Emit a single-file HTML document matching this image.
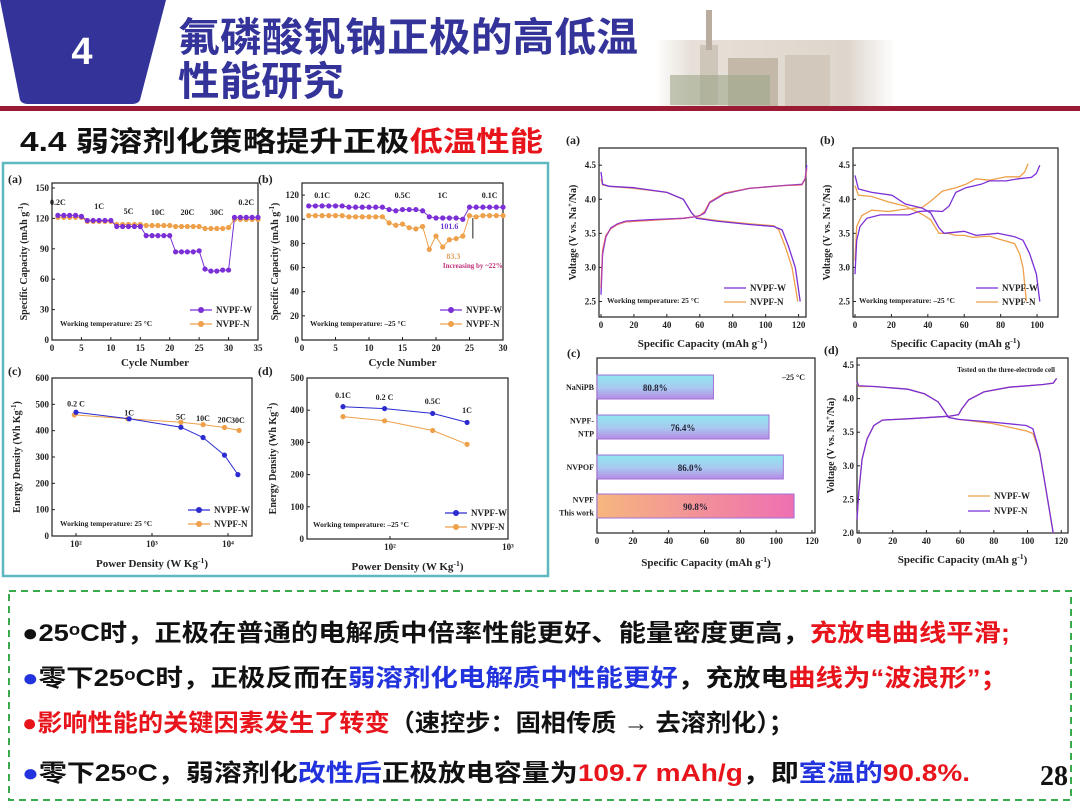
<!DOCTYPE html>
<html><head><meta charset="utf-8"><style>
html,body{margin:0;padding:0;background:#fff;width:1080px;height:810px;overflow:hidden}
svg{display:block}
.cn{font-family:"Liberation Sans","Noto Sans CJK SC",sans-serif;font-weight:bold}
.sf{font-family:"Liberation Serif",serif;font-weight:bold}
</style></head><body>
<svg id="s" width="1080" height="810" viewBox="0 0 1080 810" xmlns="http://www.w3.org/2000/svg">
<defs>
<linearGradient id="gBar" x1="0" y1="0" x2="0" y2="1"><stop offset="0" stop-color="#8fe6f0"/><stop offset="0.55" stop-color="#a9c8ef"/><stop offset="1" stop-color="#b58ae6"/></linearGradient>
<linearGradient id="gBar2" x1="0" y1="0" x2="1" y2="0"><stop offset="0" stop-color="#f6b67e"/><stop offset="1" stop-color="#ef6fb2"/></linearGradient>
<linearGradient id="gBld" x1="0" y1="0" x2="1" y2="0"><stop offset="0" stop-color="#fff"/><stop offset="0.15" stop-color="#e6e0d8"/><stop offset="0.8" stop-color="#ddd6cc"/><stop offset="1" stop-color="#fff"/></linearGradient>
</defs>
<g>
<path d="M0,0 L166,0 L140,100 Q138,104 132,104 L28,104 Q22,104 20,100 Z" fill="#33339a"/>
<text x="82" y="64" fill="#fff" font-size="38" text-anchor="middle" class="cn">4</text>
<text x="178" y="51" fill="#33339a" font-size="40" class="cn" textLength="460" lengthAdjust="spacingAndGlyphs">氟磷酸钒钠正极的高低温</text>
<text x="178" y="95" fill="#33339a" font-size="40" class="cn" textLength="166" lengthAdjust="spacingAndGlyphs">性能研究</text>
<g>
<rect x="655" y="40" width="240" height="66" fill="url(#gBld)"/>
<rect x="700" y="45" width="18" height="60" fill="#cfc6ba"/>
<rect x="706" y="10" width="6" height="40" fill="#b9ada0"/>
<rect x="728" y="58" width="50" height="48" fill="#c4b8a8"/>
<rect x="785" y="55" width="45" height="51" fill="#d2c8bb"/>
<rect x="670" y="75" width="100" height="30" fill="#9fa78a" opacity="0.6"/>
</g>
<rect x="0" y="106" width="1080" height="5" fill="#9b1b35"/>
</g>
<text x="20" y="151" font-size="28" class="cn" fill="#111" textLength="523" lengthAdjust="spacingAndGlyphs">4.4 弱溶剂化策略提升正极<tspan fill="#e8141b">低温性能</tspan></text>
<rect x="3" y="163" width="545" height="413" fill="none" stroke="#5fb8c0" stroke-width="2.5"/>
<rect x="9" y="591" width="1062" height="209" fill="none" stroke="#3aaa4a" stroke-width="2" stroke-dasharray="7,5"/>
<g font-size="24" class="cn">
<text x="22" y="641" fill="#111" textLength="988" lengthAdjust="spacingAndGlyphs">●25ᵒC时，正极在普通的电解质中倍率性能更好、能量密度更高，<tspan fill="#e8141b">充放电曲线平滑;</tspan></text>
<text x="22" y="686" fill="#111" textLength="986" lengthAdjust="spacingAndGlyphs"><tspan fill="#2233dd">●</tspan>零下25ᵒC时，正极反而在<tspan fill="#2233dd">弱溶剂化电解质中性能更好</tspan>，充放电<tspan fill="#e8141b">曲线为“波浪形”；</tspan></text>
<text x="22" y="731" fill="#111" textLength="772" lengthAdjust="spacingAndGlyphs"><tspan fill="#e8141b">●影响性能的关键因素发生了转变</tspan>（速控步：固相传质 → 去溶剂化）；</text>
<text x="22" y="781" fill="#111" textLength="948" lengthAdjust="spacingAndGlyphs"><tspan fill="#2233dd">●</tspan>零下25ᵒC，弱溶剂化<tspan fill="#2233dd">改性后</tspan>正极放电容量为<tspan fill="#e8141b">109.7 mAh/g</tspan>，即<tspan fill="#2233dd">室温的</tspan><tspan fill="#e8141b">90.8%.</tspan></text>
</g>
<text x="1068" y="785" font-size="28" text-anchor="end" class="sf" fill="#111">28</text>
</svg>
<script>
// ---- data ----
const rateCycles = [1,2,3,4,5,6,7,8,9,10,11,12,13,14,15,16,17,18,19,20,21,22,23,24,25,26,27,28,29,30,31,32,33,34,35];
const rateW25 = [123,123,123,123,122,118,118,118,118,118,112,112,112,112,112,103,103,103,103,103,87,87,87,87,88,70,68,68,69,69,121,121,121,121,121];
const rateN25 = [121,121,121,121,121,117,117,117,117,117,114,114,114,114,114,113,113,113,113,113,112,112,112,112,112,110,110,110,110,111,119,119,119,119,119];
const rateCyclesLow = [1,2,3,4,5,6,7,8,9,10,11,12,13,14,15,16,17,18,19,20,21,22,23,24,25,26,27,28,29,30];
const rateWLow = [111,111,111,111,111,111,110,110,110,110,110,110,108,107,108,108,108,107,102,101,101,101,101,100,110,110,110,110,110,110];
const rateNLow = [103,103,103,103,103,103,102,102,102,102,102,102,97,95,96,93,92,94,75,86,77,83,84,86,103,102,103,103,103,103];
const ragPowerW25 = [100,500,2400,4700,9000,13500];
const ragEnergyW25 = [470,445,413,374,307,233];
const ragPowerN25 = [95,480,2400,4700,9000,14000];
const ragEnergyN25 = [460,445,432,423,412,401];
const ragPowerLow = [40,90,230,450];
const ragEnergyWLow = [411,405,390,362];
const ragEnergyNLow = [380,367,337,294];
const gcdA_W_charge = [[0,2.6],[1,3.2],[3,3.45],[6,3.58],[10,3.64],[15,3.68],[30,3.7],[50,3.72],[56,3.74],[60,3.76],[63,3.8],[66,3.95],[75,4.08],[90,4.16],[110,4.2],[122,4.22],[124,4.3],[125,4.5]];
const gcdA_W_dis = [[0,4.4],[1,4.22],[5,4.19],[20,4.17],[40,4.1],[50,4.0],[55,3.8],[58,3.72],[70,3.68],[90,3.63],[105,3.6],[110,3.55],[114,3.3],[118,3.0],[121,2.5]];
const gcdA_N_charge = [[0,2.7],[1,3.25],[3,3.47],[6,3.57],[10,3.63],[15,3.67],[30,3.69],[50,3.72],[56,3.74],[60,3.76],[63,3.82],[66,3.96],[75,4.09],[90,4.16],[110,4.2],[122,4.21],[124,4.3],[125,4.45]];
const gcdA_N_dis = [[0,4.3],[1,4.21],[5,4.19],[20,4.16],[40,4.1],[50,4.0],[55,3.8],[58,3.73],[70,3.69],[90,3.64],[105,3.61],[108,3.55],[112,3.3],[116,3.0],[119.5,2.5]];
const gcdB_W_charge = [[0,2.9],[1,3.4],[3,3.6],[7,3.72],[15,3.77],[25,3.77],[32,3.77],[38,3.82],[45,3.83],[52,3.82],[56,3.9],[60,4.1],[66,4.17],[75,4.22],[80,4.27],[90,4.27],[97,4.3],[105,4.32],[108,4.38],[110,4.5]];
const gcdB_W_dis = [[0,4.35],[2,4.15],[10,4.1],[22,4.06],[30,3.93],[40,3.87],[45,3.8],[50,3.58],[53,3.5],[65,3.53],[72,3.47],[85,3.5],[95,3.45],[100,3.4],[104,3.2],[108,2.9],[110,2.5]];
const gcdB_N_charge = [[0,3.1],[1,3.6],[4,3.76],[10,3.84],[20,3.82],[28,3.85],[40,3.88],[45,3.97],[52,4.12],[60,4.17],[66,4.22],[72,4.3],[80,4.28],[90,4.33],[98,4.33],[101,4.4],[103,4.52]];
const gcdB_N_dis = [[0,4.2],[2,4.06],[10,4.04],[20,3.96],[30,3.9],[40,3.78],[45,3.7],[50,3.5],[55,3.5],[60,3.47],[65,3.47],[70,3.44],[80,3.46],[85,3.42],[95,3.35],[98,3.2],[100,3.0],[102,2.5]];
const gcdD_charge = [[0,2.2],[1,2.6],[3,3.1],[6,3.4],[10,3.6],[15,3.68],[30,3.7],[50,3.73],[55,3.74],[60,3.76],[62,3.85],[66,3.98],[75,4.1],[90,4.17],[110,4.21],[116,4.23],[118,4.3]];
const gcdD_dis = [[0,4.25],[1,4.19],[10,4.18],[30,4.14],[40,4.07],[48,3.95],[52,3.8],[54,3.72],[60,3.69],[80,3.65],[100,3.6],[104,3.55],[108,3.2],[112,2.6],[116,2.0]];
const gcdD_dis2 = [[0,4.23],[1,4.18],[10,4.18],[30,4.14],[40,4.07],[48,3.95],[52,3.8],[54,3.72],[60,3.69],[80,3.63],[100,3.52],[104,3.48],[108,3.2],[112,2.6],[116,2.0]];
const compNames = ["NaNiPB","NVPF-NTP","NVPOF","NVPF This work"];
const compCapacity = [65,96,104,110];
const compRetention = ["80.8%","76.4%","86.0%","90.8%"];

// ---- helpers ----
const NS = "http://www.w3.org/2000/svg";
const svg = document.getElementById('s');
const PUR = '#7b2fd6', ORA = '#eea04a', BLU = '#2b2bd0';
function E(tag, a, p){ const e=document.createElementNS(NS,tag); for(const k in a) e.setAttribute(k,a[k]); (p||svg).appendChild(e); return e; }
function TX(p, s, x, y, size, anchor, fill){ const e=E('text',{x:x,y:y,'font-size':size,'text-anchor':anchor||'start',fill:fill||'#222','class':'sf'},p); e.textContent=s; return e; }
function lin(d0,d1,r0,r1){ return v => r0+(v-d0)/(d1-d0)*(r1-r0); }
function logs(d0,d1,r0,r1){ return v => r0+(Math.log10(v)-d0)/(d1-d0)*(r1-r0); }
function frame(g,L,T,R,B){ const f=E('rect',{x:L,y:T,width:R-L,height:B-T,fill:'none',stroke:'#222','stroke-width':1.2},g);
  
   }
function xticks(g,xs,B,vals,fs,labels){ vals.forEach((v,i)=>{ const x=xs(v);
  const t=E('line',{x1:x,y1:B,x2:x,y2:B-3,stroke:'#222'},g);
  
  
  const l=TX(g,labels?labels[i]:String(v),x,B+11,fs,'middle');
  
   }); }
function yticks(g,ys,L,vals,fs,fmt){ vals.forEach(v=>{ const y=ys(v);
  const t=E('line',{x1:L,y1:y,x2:L+3,y2:y,stroke:'#222'},g);
  
  
  const l=TX(g,fmt?fmt(v):String(v),L-3,y+3,fs,'end');
  
   }); }
function title(g,s,x,y,fs,rot,sup,after){ const e=E('text',{x:x,y:y,'font-size':fs,'text-anchor':'middle',fill:'#222','class':'sf'},g);
  if(rot) e.setAttribute('transform','rotate(-90 '+x+' '+y+')');
  e.appendChild(document.createTextNode(s));
  if(sup){ const t=E('tspan',{dy:-4,'font-size':fs*0.7},e); t.textContent=sup; const t2=E('tspan',{dy:4},e); t2.textContent=after; }
  return e; }
function poly(g,pts,color,w){ return E('polyline',{points:pts.map(p=>p[0].toFixed(1)+','+p[1].toFixed(1)).join(' '),fill:'none',stroke:color,'stroke-width':w||1.3},g); }
function group(name){ const g=E('g',{});   return g; }
function legend(g,x,y,label,color,dot){ const l=E('line',{x1:x,y1:y,x2:x+22,y2:y,stroke:color,'stroke-width':1.3},g);
  
  
  if(dot){ const c=E('circle',{cx:x+11,cy:y,r:3,fill:color},g);
    
     }
  const t=TX(g,label,x+26,y+3,9);
  
   }
function series(g,xsArr,ysArr,xs,ys,color,name,r){ const pts=xsArr.map((v,i)=>[xs(v),ys(ysArr[i])]);
  const p=poly(g,pts,color,1);
  
  
  pts.forEach(pt=>{ const c=E('circle',{cx:pt[0],cy:pt[1],r:r||2.8,fill:color},g);
    
     }); }
function curve(g,data,xs,ys,color,name){ const p=poly(g,data.map(d=>[xs(d[0]),ys(d[1])]),color,1.3);
  
   }

// ---- chart (a) left: rate 25C ----
(function(){ const g=group('rate-chart-25c');
  const L=52,T=183,R=258,B=340; const xs=lin(0,35,L,R), ys=lin(0,150,B,T+5);
  frame(g,L,T,R,B); xticks(g,xs,B,[0,5,10,15,20,25,30,35],9); yticks(g,ys,L,[0,30,60,90,120,150],9);
  TX(g,'(a)',8,183,12);
  title(g,'Cycle Number',(L+R)/2,366,11);
  title(g,'Specific Capacity (mAh g',27,(T+B)/2,10,true,'-1',')');
  series(g,rateCycles,rateN25,xs,ys,ORA,'nvpf-n-25c',2.6);
  series(g,rateCycles,rateW25,xs,ys,PUR,'nvpf-w-25c',2.6);
  [['0.2C',1],['1C',8],['5C',13],['10C',18],['20C',23],['30C',28],['0.2C',33]].forEach((c,i)=>{ const t=TX(g,c[0],xs(c[1]),[205,209,214,215,215,215,205][i],8,'middle');
    
     });
  legend(g,190,310,'NVPF-W',PUR,true); legend(g,190,324,'NVPF-N',ORA,true);
  TX(g,'Working temperature: 25 °C',60,326,7.5);
})();
// ---- chart (b) left: rate -25C ----
(function(){ const g=group('rate-chart-minus25c');
  const L=302,T=183,R=503,B=340; const xs=lin(0,30,L,R), ys=lin(0,130,B,T);
  frame(g,L,T,R,B); xticks(g,xs,B,[0,5,10,15,20,25,30],9); yticks(g,ys,L,[0,20,40,60,80,100,120],9);
  TX(g,'(b)',258,183,12);
  title(g,'Cycle Number',(L+R)/2,366,11);
  title(g,'Specific Capacity (mAh g',278,(T+B)/2,10,true,'-1',')');
  series(g,rateCyclesLow,rateNLow,xs,ys,ORA,'nvpf-n-minus25c',2.6);
  series(g,rateCyclesLow,rateWLow,xs,ys,PUR,'nvpf-w-minus25c',2.6);
  [['0.1C',3],['0.2C',9],['0.5C',15],['1C',21],['0.1C',28]].forEach(c=>{ TX(g,c[0],xs(c[1]),198,8,'middle'); });
  TX(g,'101.6',xs(22),229,8,'middle','#6a3ad0'); TX(g,'83.3',xs(22.6),259,8,'middle','#e0a060');
  E('line',{x1:xs(25.5),y1:ys(101),x2:xs(25.5),y2:ys(84),stroke:'#222'},g);
  TX(g,'Increasing by ~22%',xs(25.5),268,7,'middle','#c0307a');
  legend(g,440,310,'NVPF-W',PUR,true); legend(g,440,324,'NVPF-N',ORA,true);
  TX(g,'Working temperature: –25 °C',310,326,7.5);
})();
// ---- chart (c) left: ragone 25C ----
(function(){ const g=group('ragone-chart-25c');
  const L=52,T=378,R=252,B=536; const xs=logs(1.684,4.316,L,R), ys=lin(0,600,B,T);
  frame(g,L,T,R,B); xticks(g,xs,B,[100,1000,10000],9,['10²','10³','10⁴']); yticks(g,ys,L,[0,100,200,300,400,500,600],9);
  TX(g,'(c)',8,375,12);
  title(g,'Power Density (W Kg',(L+R)/2,567,11,false,'-1',')');
  title(g,'Energy Density (Wh Kg',20,(T+B)/2,10,true,'-1',')');
  series(g,ragPowerN25,ragEnergyN25,xs,ys,ORA,'nvpf-n-ragone-25c',2.6);
  series(g,ragPowerW25,ragEnergyW25,xs,ys,BLU,'nvpf-w-ragone-25c',2.6);
  [['0.2 C',100,500],['1C',500,465],['5C',2400,450],['10C',4700,445],['20C',9000,438],['30C',13500,436]].forEach(c=>{ TX(g,c[0],xs(c[1]),ys(c[2])+2,8,'middle'); });
  legend(g,188,510,'NVPF-W',BLU,true); legend(g,188,524,'NVPF-N',ORA,true);
  TX(g,'Working temperature: 25 °C',60,526,7.5);
})();
// ---- chart (d) left: ragone -25C ----
(function(){ const g=group('ragone-chart-minus25c');
  const L=307,T=378,R=508,B=539; const xs=logs(1.297,3,L,R), ys=lin(0,500,B,T);
  frame(g,L,T,R,B); xticks(g,xs,B,[100,1000],9,['10²','10³']); yticks(g,ys,L,[0,100,200,300,400,500],9);
  TX(g,'(d)',258,375,12);
  title(g,'Power Density (W Kg',(L+R)/2,570,11,false,'-1',')');
  title(g,'Energy Density (Wh Kg',276,(T+B)/2,10,true,'-1',')');
  series(g,ragPowerLow,ragEnergyNLow,xs,ys,ORA,'nvpf-n-ragone-minus25c',2.6);
  series(g,ragPowerLow,ragEnergyWLow,xs,ys,BLU,'nvpf-w-ragone-minus25c',2.6);
  [['0.1C',40],['0.2 C',90],['0.5C',230],['1C',450]].forEach((c,i)=>{ TX(g,c[0],xs(c[1]),[398,400,404,413][i],8,'middle'); });
  legend(g,445,513,'NVPF-W',BLU,true); legend(g,445,527,'NVPF-N',ORA,true);
  TX(g,'Working temperature: –25 °C',313,527,7.5);
})();
// ---- right voltage charts ----
function gcd(name,L,T,R,B,xmax,xt,ymin,ymax,yt,lab,ytTop,yBot){ const g=group(name);
  const xs=lin(0,xmax,L+2,R), ys=lin(ymin,ymax,yBot,ytTop);
  frame(g,L,T,R,B); xticks(g,xs,B,xt,9); yticks(g,ys,L,yt,9,v=>v.toFixed(1));
  TX(g,lab,L-33,T-4,12);
  title(g,'Specific Capacity (mAh g',(L+R)/2,B+30,11,false,'-1',')');
  title(g,'Voltage (V vs. Na',L-23,(T+B)/2,10,true,'+','/Na)');
  return {g,xs,ys}; }
(function(){ const c=gcd('gcd-chart-25c',599,148,806,317,124.5,[0,20,40,60,80,100,120],2.39,4.62,[2.5,3.0,3.5,4.0,4.5],'(a)',157,309);
  curve(c.g,gcdA_N_charge,c.xs,c.ys,ORA,'nvpf-n-charge-curve'); curve(c.g,gcdA_N_dis,c.xs,c.ys,ORA,'nvpf-n-discharge-curve');
  curve(c.g,gcdA_W_charge,c.xs,c.ys,PUR,'nvpf-w-charge-curve'); curve(c.g,gcdA_W_dis,c.xs,c.ys,PUR,'nvpf-w-discharge-curve');
  curve(c.g,gcdA_N_charge,c.xs,c.ys,'rgba(240,80,120,0.5)','nvpf-overlay-curve');
  legend(c.g,724,288,'NVPF-W',PUR,false); legend(c.g,724,302,'NVPF-N',ORA,false);
  TX(c.g,'Working temperature: 25 °C',607,303,7.5);
})();
(function(){ const c=gcd('gcd-chart-minus25c',853,148,1058,317,111.5,[0,20,40,60,80,100],2.39,4.62,[2.5,3.0,3.5,4.0,4.5],'(b)',157,309);
  c.xs=lin(0,100,855,1023);
  curve(c.g,gcdB_N_charge,c.xs,c.ys,ORA,'nvpf-n-charge-curve'); curve(c.g,gcdB_N_dis,c.xs,c.ys,ORA,'nvpf-n-discharge-curve');
  curve(c.g,gcdB_W_charge,c.xs,c.ys,PUR,'nvpf-w-charge-curve'); curve(c.g,gcdB_W_dis,c.xs,c.ys,PUR,'nvpf-w-discharge-curve');
  legend(c.g,976,288,'NVPF-W',PUR,false); legend(c.g,976,302,'NVPF-N',ORA,false);
  TX(c.g,'Working temperature: –25 °C',859,303,7.5);
})();
(function(){ const c=gcd('gcd-chart-three-electrode',857,358,1068,533,124,[0,20,40,60,80,100,120],2.0,4.5,[2.0,2.5,3.0,3.5,4.0,4.5],'(d)',365,533);
  c.xs=lin(0,120,857,1060);
  curve(c.g,gcdD_charge,c.xs,c.ys,ORA,'nvpf-w-charge-curve'); curve(c.g,gcdD_dis2,c.xs,c.ys,ORA,'nvpf-w-discharge-curve');
  curve(c.g,gcdD_charge,c.xs,c.ys,PUR,'nvpf-n-charge-curve'); curve(c.g,gcdD_dis,c.xs,c.ys,PUR,'nvpf-n-discharge-curve');
  legend(c.g,968,496,'NVPF-W',ORA,false); legend(c.g,968,511,'NVPF-N',PUR,false);
  TX(c.g,'Tested on the three-electrode cell',1055,372,7,'end');
})();
// ---- right (c): bar comparison ----
(function(){ const g=group('capacity-comparison-bar-chart');
  const L=597,T=358,R=815,B=533; const xs=lin(0,120,L,812); const bandY=[387,427,467,506];
  frame(g,L,T,R,B); xticks(g,xs,B,[0,20,40,60,80,100,120],9);
  TX(g,'(c)',567,357,12); TX(g,'–25 °C',805,380,8,'end');
  title(g,'Specific Capacity (mAh g',(L+R)/2,566,11,false,'-1',')');
  compCapacity.forEach((v,i)=>{ const y=bandY[i];
    const b=E('rect',{x:L,y:y-12,width:xs(v)-L,height:24,fill:i===3?'url(#gBar2)':'url(#gBar)',stroke:'#a070d8','stroke-width':1},g);
    
    
    const t=TX(g,compRetention[i],(L+xs(v))/2,y+4,9,'middle','#223');
    
    
    const parts=compNames[i]==='NVPF-NTP'?['NVPF-','NTP']:compNames[i]==='NVPF This work'?['NVPF','This work']:[compNames[i]];
    parts.forEach((p,k)=>{ const c=TX(g,p,L-3,y+3+(k-(parts.length-1)/2)*13,8,'end');
      
       });
  });
})();
</script>
</body></html>
